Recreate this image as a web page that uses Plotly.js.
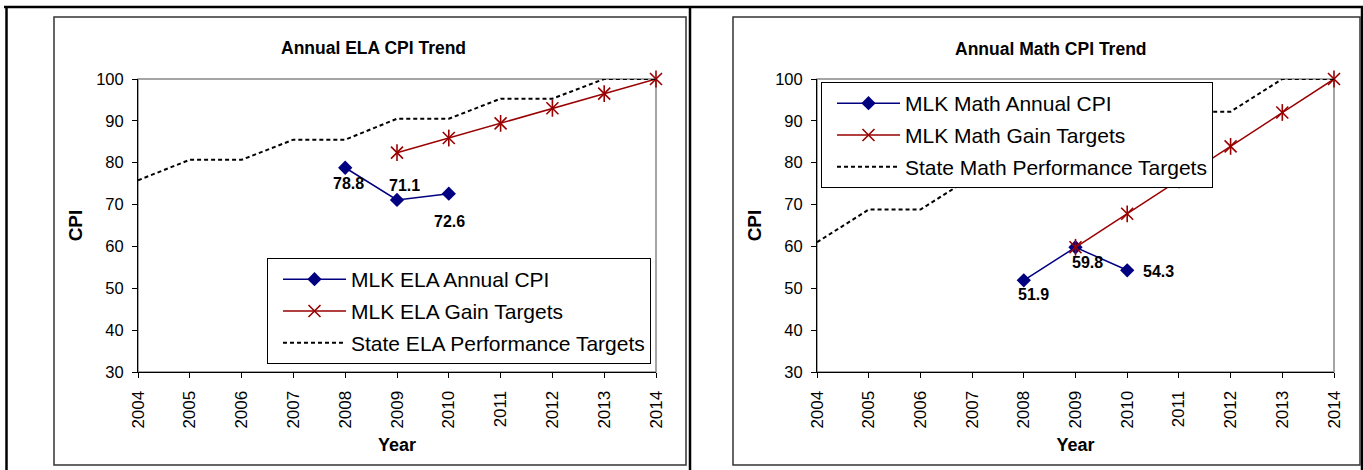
<!DOCTYPE html>
<html>
<head>
<meta charset="utf-8">
<script src="https://cdn.plot.ly/plotly-3.0.1.min.js"></script>
<style>html,body{margin:0;padding:0;background:#fff;} #chart{width:1363px;height:470px;}</style>
</head>
<body>
<div id="chart"></div>
<script>
// ---- data ----
const years = [2004, 2005, 2006, 2007, 2008, 2009, 2010, 2011, 2012, 2013, 2014];
const mlkYears = [2008, 2009, 2010];
const gainYears = [2009, 2010, 2011, 2012, 2013, 2014];

const elaMLK = [78.8, 71.1, 72.6];
const elaGain = [82.4, 85.9, 89.4, 93.0, 96.5, 100];
const elaState = [75.8, 80.7, 80.7, 85.5, 85.5, 90.5, 90.5, 95.3, 95.3, 100, 100];

const mathMLK = [51.9, 59.8, 54.3];
const mathGain = [59.8, 67.8, 75.9, 83.9, 92.0, 100];
const mathState = [61.0, 68.8, 68.8, 76.6, 76.6, 84.4, 84.4, 92.2, 92.2, 100, 100];

const elaNames = ['MLK ELA Annual CPI', 'MLK ELA Gain Targets', 'State ELA Performance Targets'];
const mathNames = ['MLK Math Annual CPI', 'MLK Math Gain Targets', 'State Math Performance Targets'];
const chartTitles = ['Annual ELA CPI Trend', 'Annual Math CPI Trend'];
const xTitle = 'Year';
const yTitle = 'CPI';

// ---- styling / layout helpers ----
const W = 1363, H = 470;
const FONT = 'Arial, "Liberation Sans", sans-serif';
const BLUE = '#000080', RED = '#990000';
const px = v => v / W, py = v => 1 - v / H;

function seriesTraces(xa, ya, names, mlk, gain, state, legendId, key) {
  return [
    {x: mlkYears, y: mlk, name: names[0], xaxis: xa, yaxis: ya, legend: legendId, legendgroup: key + 'a',
     mode: 'lines+markers', cliponaxis: false,
     line: {color: BLUE, width: 1.5},
     marker: {symbol: 'diamond', size: 11, color: BLUE}},
    {x: gainYears, y: gain, name: names[1], xaxis: xa, yaxis: ya, legend: legendId, legendgroup: key + 'b',
     mode: 'lines+markers', cliponaxis: false,
     line: {color: RED, width: 1.5},
     marker: {symbol: 'x-thin-open', size: 12, color: RED, line: {color: RED, width: 1.6}}},
    {x: gainYears, y: gain, name: names[1] + ' (bar)', xaxis: xa, yaxis: ya, showlegend: false,
     legend: legendId, legendgroup: key + 'b',
     hoverinfo: 'skip', mode: 'markers', cliponaxis: false,
     marker: {symbol: 'line-ns-open', size: 12, color: RED, line: {color: RED, width: 1.6}}},
    {x: years, y: state, name: names[2], xaxis: xa, yaxis: ya, legend: legendId, legendgroup: key + 'c',
     mode: 'lines', line: {color: '#000', width: 2, dash: '4px,3px'}}
  ];
}

const data = [
  ...seriesTraces('x', 'y', elaNames, elaMLK, elaGain, elaState, 'legend', 'ela'),
  ...seriesTraces('x2', 'y2', mathNames, mathMLK, mathGain, mathState, 'legend2', 'math')
];

const xCommon = {range: [2004, 2014], tickvals: years, ticktext: years.map(String), tickangle: -90,
  showgrid: false, zeroline: false, showline: true, linecolor: '#000', linewidth: 1,
  ticks: 'outside', ticklen: 5, tickcolor: '#000', ticklabelstandoff: 6,
  tickfont: {family: FONT, size: 17, color: '#000'},
  title: {text: xTitle, font: {family: FONT, size: 18, color: '#000', weight: 'bold'}, standoff: 10}};
const yCommon = {range: [30, 100], dtick: 10, tick0: 30,
  showgrid: false, zeroline: false, showline: true, linecolor: '#000', linewidth: 1,
  ticks: 'outside', ticklen: 5, tickcolor: '#000', ticklabelstandoff: 5,
  tickfont: {family: FONT, size: 16.5, color: '#000'},
  title: {text: yTitle, font: {family: FONT, size: 19, color: '#000', weight: 'bold'}, standoff: 8}};

const yDom = [py(372), py(79)];

const legendCommon = {xanchor: 'left', yanchor: 'top', xref: 'paper', yref: 'paper',
  bgcolor: '#fff', bordercolor: '#000', borderwidth: 1, itemwidth: 63, indentation: 10,
  tracegroupgap: 1.5, traceorder: 'grouped',
  font: {family: FONT, size: 21, color: '#000'}};

// data labels (offsets in px)
const elaLabelShift = [[3, -16], [7, 14], [1, -28]];
const mathLabelShift = [[10, -14], [12, -15], [31, -1]];
function labels(xa, ya, vals, shifts) {
  return vals.map((v, i) => ({x: mlkYears[i], y: v, xref: xa, yref: ya, text: v.toFixed(1),
    showarrow: false, xshift: shifts[i][0], yshift: shifts[i][1],
    font: {family: FONT, size: 16, color: '#000', weight: 'bold'}}));
}

const titleFont = {family: FONT, size: 17.5, color: '#000', weight: 'bold'};
const annotations = [
  {x: px(373), y: py(48), xref: 'paper', yref: 'paper', xanchor: 'center', yanchor: 'middle',
   text: chartTitles[0], showarrow: false, font: titleFont},
  {x: px(1051), y: py(49), xref: 'paper', yref: 'paper', xanchor: 'center', yanchor: 'middle',
   text: chartTitles[1], showarrow: false, font: titleFont},
  ...labels('x', 'y', elaMLK, elaLabelShift),
  ...labels('x2', 'y2', mathMLK, mathLabelShift)
];

const shapes = [
  // table lines
  {type: 'line', xref: 'paper', yref: 'paper', x0: px(4), x1: 1, y0: py(7), y1: py(7), line: {color: '#000', width: 2.5}},
  {type: 'line', xref: 'paper', yref: 'paper', x0: px(6.5), x1: px(6.5), y0: 0, y1: py(6), line: {color: '#000', width: 2.5}},
  {type: 'line', xref: 'paper', yref: 'paper', x0: px(690), x1: px(690), y0: 0, y1: py(6), line: {color: '#000', width: 2.5}},
  {type: 'line', xref: 'paper', yref: 'paper', x0: px(1362), x1: px(1362), y0: 0, y1: py(6), line: {color: '#000', width: 2.5}},
  // chart frames
  {type: 'rect', xref: 'paper', yref: 'paper', x0: px(54), x1: px(686), y0: py(465), y1: py(17), line: {color: '#333', width: 1.5}},
  {type: 'rect', xref: 'paper', yref: 'paper', x0: px(733), x1: px(1360), y0: py(465), y1: py(17), line: {color: '#333', width: 1.5}},
  // plot area borders (gray)
  {type: 'rect', xref: 'x domain', yref: 'y domain', x0: 0, x1: 1, y0: 0, y1: 1, layer: 'below', line: {color: '#888', width: 1.5}},
  {type: 'rect', xref: 'x2 domain', yref: 'y2 domain', x0: 0, x1: 1, y0: 0, y1: 1, layer: 'below', line: {color: '#888', width: 1.5}}
];

const layout = {
  width: W, height: H, margin: {l: 0, r: 0, t: 0, b: 0},
  paper_bgcolor: '#fff', plot_bgcolor: 'rgba(0,0,0,0)',
  font: {family: FONT, color: '#000'},
  xaxis: Object.assign({}, xCommon, {domain: [px(138), px(656)], anchor: 'y'}),
  yaxis: Object.assign({}, yCommon, {domain: yDom, anchor: 'x'}),
  xaxis2: Object.assign({}, xCommon, {domain: [px(817), px(1334)], anchor: 'y2'}),
  yaxis2: Object.assign({}, yCommon, {domain: yDom, anchor: 'x2'}),
  legend: Object.assign({}, legendCommon, {x: px(267), y: py(258)}),
  legend2: Object.assign({}, legendCommon, {x: px(821), y: py(82)}),
  annotations: annotations,
  shapes: shapes,
  hovermode: false
};

Plotly.newPlot('chart', data, layout, {displayModeBar: false, staticPlot: true});
</script>
</body>
</html>
